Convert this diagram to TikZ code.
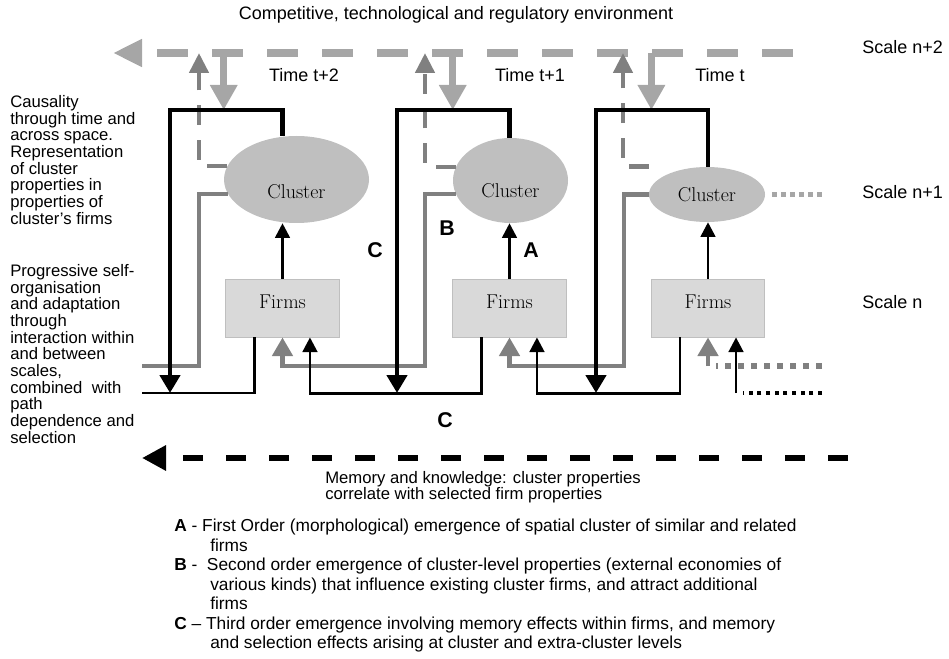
\documentclass[tikz,border=0pt]{standalone}
\usepackage{fontspec}
\setsansfont{Liberation Sans}
\usepackage{tikz}
\usetikzlibrary{arrows.meta}
\usetikzlibrary{shapes.geometric}
\usetikzlibrary{positioning}
\definecolor{envgray}{HTML}{A6A6A6}
\definecolor{loopgray}{HTML}{808080}
\definecolor{clustergray}{HTML}{BFBFBF}
\definecolor{firmgray}{HTML}{D9D9D9}
\newcommand\tightlines{\lineskiplimit=-8pt\relax}
\tikzset{
    txt/.style={font=\sffamily\fontsize{13.5}{15}\selectfont,inner sep=0pt},
    sidetxt/.style={font=\sffamily\fontsize{12.5}{12.5}\selectfont\tightlines,inner sep=0pt,align=left,anchor=north west},
    letter/.style={font=\sffamily\bfseries\fontsize{16}{18}\selectfont,inner sep=0pt},
    boxtxt/.style={font=\rmfamily\fontsize{15}{17}\selectfont,inner sep=0pt},
    clusternode/.style={ellipse,fill=clustergray,inner sep=0pt},
    firmnode/.style={rectangle,fill=firmgray,draw=clustergray,line width=0.6pt,minimum width=85pt,minimum height=43.5pt,inner sep=0pt},
    envline/.style={envgray,line width=6pt,dash pattern=on 23.25pt off 18pt,-{Triangle[length=21.75pt,width=19.5pt]}},
    envdown/.style={envgray,line width=5.25pt,-{Triangle[length=18.75pt,width=19.5pt]}},
    envup/.style={loopgray,line width=3.4pt,dash pattern=on 15pt off 11pt,-{Triangle[length=15pt,width=14.25pt]}},
    grayloop/.style={loopgray,line width=3.5pt,-{Triangle[length=14pt,width=15pt]}},
    blackloop/.style={line width=3.4pt,-{Triangle[length=13.5pt,width=15pt]}},
    firmlink/.style={line width=2pt,-{Triangle[length=11pt,width=11pt]}},
    memline/.style={line width=5pt,dash pattern=on 15pt off 17.25pt,-{Triangle[length=18pt,width=18pt]}},
}
\begin{document}
\begin{tikzpicture}[x=0.75pt,y=-0.75pt]
    \useasboundingbox (0,0) rectangle (949,659);
    % clusters and firms, time t+2, t+1, t
    \node[clusternode,minimum width=108.75pt,minimum height=65.25pt,
        label={[boxtxt,yshift=-9pt]center:Cluster}] (cl2) at (296.5,179.5) {};
    \node[clusternode,minimum width=86.25pt,minimum height=63.75pt,
        label={[boxtxt,yshift=-8pt]center:Cluster}] (cl1) at (510.5,180.5) {};
    \node[clusternode,minimum width=87pt,minimum height=41.25pt,
        label={[boxtxt]center:Cluster}] (cl0) at (707,194.5) {};
    \node[firmnode,label={[boxtxt,yshift=4.5pt]center:Firms}] (fi2) at (282.5,308) {};
    \node[firmnode,label={[boxtxt,yshift=4.5pt]center:Firms}] (fi1) at (509.5,308) {};
    \node[firmnode,label={[boxtxt,yshift=4.5pt]center:Firms}] (fi0) at (708,308) {};

    \coordinate (envR) at (793,53);
    \coordinate (envL) at (113,53);
    \coordinate (top) at (0,110);
    \coordinate (base) at (0,393);
    \coordinate (past) at (142,393);
    \coordinate (up2) at (199,53);
    \coordinate (up1) at (425,53);
    \coordinate (up0) at (623,53);
    \coordinate (gl2) at (199,366);
    \coordinate (gl1) at (425,366);
    \coordinate (gl0) at (624,366);
    \coordinate (lp2) at (170,110);
    \coordinate (lp1) at (397,110);
    \coordinate (lp0) at (596,110);
    \coordinate (nextgray) at (822,366);
    \coordinate (nextblack) at (822,393);
    \coordinate (memR) at (848,458);
    \coordinate (memL) at (142,458);

    % environment
    \draw[envline] (envR) -- (envL);
    \draw[envdown] (cl2.west |- envL) -- (cl2.west |- top);
    \draw[envdown] (cl1.west |- envL) -- (cl1.west |- top);
    \draw[envdown] ([xshift=2pt]cl0.west |- envL) -- ([xshift=2pt]cl0.west |- top);
    \draw[envup] (cl2.169) -| (up2);
    \draw[envup] (cl1.166) -| (up1);
    \draw[envup] (cl0.west |- cl0.north) -| (up0);

    % cluster properties back to firms
    \draw[loopgray,line width=3.5pt] (cl2.192) -| (gl2) -- (gl2 -| past);
    \draw[grayloop] (cl1.194) -| (gl1) -| (fi2.south);
    \draw[grayloop] (cl0.west) -| (gl0) -| (fi1.south);
    \draw[loopgray,line width=4.5pt,dash pattern=on 4.5pt off 5.25pt] (nextgray) -- ([xshift=6pt]fi0.south |- nextgray);
    \draw[grayloop] (fi0.south |- nextgray) -- (fi0.south);
    \draw[envgray,line width=4pt,dash pattern=on 3.5pt off 3.25pt] ([xshift=5pt]cl0.east) -- (nextgray |- cl0.east);

    % firms
    \draw[firmlink] (fi2.north) -- (fi2.north |- cl2.south);
    \draw[firmlink] (fi1.north) -- (fi1.north |- cl1.south);
    \draw[firmlink] (fi0.north) -- (fi0.north |- cl0.south);
    \draw[line width=2pt] ([xshift=-21pt]fi2.south) |- (past);
    \draw[firmlink] ([xshift=-21pt]fi1.south) -- ++(0,56) -| ([xshift=20.6pt]fi2.south);
    \draw[firmlink] ([xshift=-21pt]fi0.south) -- ++(0,56) -| ([xshift=20.6pt]fi1.south);
    \draw[line width=2.6pt,dash pattern=on 3pt off 3.5pt] (nextblack) -- ([xshift=26pt]fi0.south |- nextblack);
    \draw[firmlink] ([xshift=21pt]fi0.south |- nextblack) -- ([xshift=21pt]fi0.south);

    % memory loops
    \draw[blackloop] (fi2.north |- cl2.north) |- (lp2) -- (lp2 |- base);
    \draw[blackloop] (fi1.north |- cl1.north) |- (lp1) -- (lp1 |- base);
    \draw[blackloop] (fi0.north |- cl0.north) |- (lp0) -- (lp0 |- base);
    \draw[memline] (memR) -- (memL);

    % texts
    \node[txt] (envtxt) at (456,15) {Competitive, technological and regulatory environment};
    \node[txt] (time2) at (304,75) {Time t+2};
    \node[txt] (time1) at (530,75) {Time t+1};
    \node[txt] (time0) at (720,75) {Time t};
    \node[txt,anchor=west] (scale2) at (862,47) {Scale n+2};
    \node[txt,anchor=west] (scale1) at (862,192) {Scale n+1};
    \node[txt,anchor=west] (scale0) at (862,302) {Scale n};
    \node[letter] (lblC1) at (375,250) {C};
    \node[letter] (lblB) at (447,228) {B};
    \node[letter] (lblA) at (531,250) {A};
    \node[letter] (lblC2) at (445,420) {C};
    \node[sidetxt] (causal) at (10,95) {Causality\\through time and\\across space.\\Representation\\of cluster\\properties in\\properties of\\cluster's firms};
    \node[sidetxt] (selforg) at (10,264) {Progressive self-\\organisation\\and adaptation\\through\\interaction within\\and between\\scales,\\combined\ \ with\\path\\dependence and\\selection};
    \node[sidetxt,font=\sffamily\fontsize{12.5}{12}\selectfont\tightlines] (memtxt) at (325,471) {Memory and knowledge: cluster properties\\correlate with selected firm properties};
    \node[sidetxt,font=\sffamily\fontsize{13}{14.6}\selectfont\tightlines] (legend) at (174,519) {\textbf{A} - First Order (morphological) emergence of spatial cluster of similar and related\\\hspace*{27pt}firms\\\textbf{B} - \ Second order emergence of cluster-level properties (external economies of\\\hspace*{27pt}various kinds) that influence existing cluster firms, and attract additional\\\hspace*{27pt}firms\\\textbf{C} -- Third order emergence involving memory effects within firms, and memory\\\hspace*{27pt}and selection effects arising at cluster and extra-cluster levels};
\end{tikzpicture}
\end{document}
